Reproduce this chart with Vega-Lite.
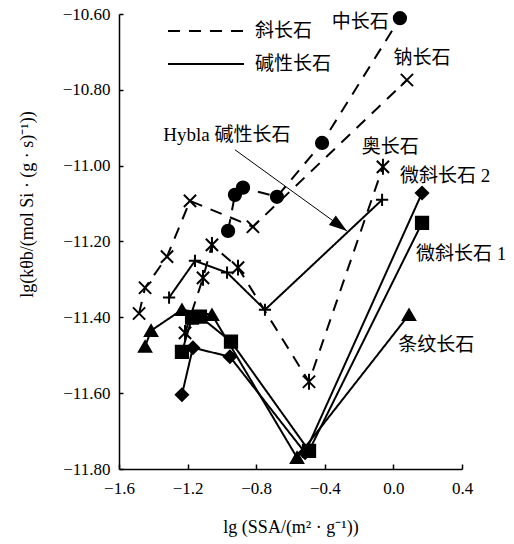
{
  "$schema": "https://vega.github.io/schema/vega-lite/v6.json",
  "width": 343,
  "height": 455,
  "autosize": {"type": "none"},
  "padding": {"left": 119, "top": 14, "right": 52, "bottom": 75},
  "background": "white",
  "config": {
    "view": {"stroke": null},
    "axis": {
      "grid": false,
      "domainColor": "black",
      "domainWidth": 1.5,
      "tickColor": "black",
      "tickWidth": 1.5,
      "labelFont": "Liberation Serif, serif",
      "labelFontSize": 17,
      "labelColor": "black",
      "labelFlush": false,
      "labelOverlap": false,
      "titleFont": "Liberation Serif, serif",
      "titleFontSize": 18,
      "titleFontWeight": "normal",
      "titleColor": "black"
    }
  },
  "datasets": {
    "pts": [
      {"s": "中长石", "g": "斜长石", "i": 1, "x": -0.964, "y": -11.172},
      {"s": "中长石", "g": "斜长石", "i": 2, "x": -0.924, "y": -11.077},
      {"s": "中长石", "g": "斜长石", "i": 3, "x": -0.877, "y": -11.058},
      {"s": "中长石", "g": "斜长石", "i": 4, "x": -0.679, "y": -11.082},
      {"s": "中长石", "g": "斜长石", "i": 5, "x": -0.416, "y": -10.94},
      {"s": "中长石", "g": "斜长石", "i": 6, "x": 0.038, "y": -10.611},
      {"s": "钠长石", "g": "斜长石", "i": 1, "x": -1.483, "y": -11.39},
      {"s": "钠长石", "g": "斜长石", "i": 2, "x": -1.448, "y": -11.322},
      {"s": "钠长石", "g": "斜长石", "i": 3, "x": -1.32, "y": -11.24},
      {"s": "钠长石", "g": "斜长石", "i": 4, "x": -1.186, "y": -11.093},
      {"s": "钠长石", "g": "斜长石", "i": 5, "x": -0.819, "y": -11.161},
      {"s": "钠长石", "g": "斜长石", "i": 6, "x": 0.079, "y": -10.774},
      {"s": "奥长石", "g": "斜长石", "i": 1, "x": -1.215, "y": -11.441},
      {"s": "奥长石", "g": "斜长石", "i": 2, "x": -1.11, "y": -11.296},
      {"s": "奥长石", "g": "斜长石", "i": 3, "x": -1.058, "y": -11.209},
      {"s": "奥长石", "g": "斜长石", "i": 4, "x": -0.906, "y": -11.269},
      {"s": "奥长石", "g": "斜长石", "i": 5, "x": -0.492, "y": -11.57},
      {"s": "奥长石", "g": "斜长石", "i": 6, "x": -0.061, "y": -11.003},
      {"s": "Hybla", "g": "碱性长石", "i": 1, "x": -1.308, "y": -11.348},
      {"s": "Hybla", "g": "碱性长石", "i": 2, "x": -1.157, "y": -11.251},
      {"s": "Hybla", "g": "碱性长石", "i": 3, "x": -0.97, "y": -11.282},
      {"s": "Hybla", "g": "碱性长石", "i": 4, "x": -0.749, "y": -11.38},
      {"s": "Hybla", "g": "碱性长石", "i": 5, "x": -0.066, "y": -11.09},
      {"s": "条纹长石", "g": "碱性长石", "i": 1, "x": -1.448, "y": -11.477},
      {"s": "条纹长石", "g": "碱性长石", "i": 2, "x": -1.413, "y": -11.435},
      {"s": "条纹长石", "g": "碱性长石", "i": 3, "x": -1.233, "y": -11.38},
      {"s": "条纹长石", "g": "碱性长石", "i": 4, "x": -1.058, "y": -11.393},
      {"s": "条纹长石", "g": "碱性长石", "i": 5, "x": -0.562, "y": -11.77},
      {"s": "条纹长石", "g": "碱性长石", "i": 6, "x": 0.091, "y": -11.393},
      {"s": "微斜长石1", "g": "碱性长石", "i": 1, "x": -1.233, "y": -11.491},
      {"s": "微斜长石1", "g": "碱性长石", "i": 2, "x": -1.174, "y": -11.401},
      {"s": "微斜长石1", "g": "碱性长石", "i": 3, "x": -1.128, "y": -11.398},
      {"s": "微斜长石1", "g": "碱性长石", "i": 4, "x": -0.947, "y": -11.464},
      {"s": "微斜长石1", "g": "碱性长石", "i": 5, "x": -0.492, "y": -11.752},
      {"s": "微斜长石1", "g": "碱性长石", "i": 6, "x": 0.167, "y": -11.151},
      {"s": "微斜长石2", "g": "碱性长石", "i": 1, "x": -1.233, "y": -11.604},
      {"s": "微斜长石2", "g": "碱性长石", "i": 2, "x": -1.169, "y": -11.48},
      {"s": "微斜长石2", "g": "碱性长石", "i": 3, "x": -0.953, "y": -11.504},
      {"s": "微斜长石2", "g": "碱性长石", "i": 4, "x": -0.515, "y": -11.757},
      {"s": "微斜长石2", "g": "碱性长石", "i": 5, "x": 0.167, "y": -11.072}
    ],
    "labels": [
      {"t": "中长石", "x": -0.36, "y": -10.62},
      {"t": "钠长石", "x": 0.0, "y": -10.717},
      {"t": "奥长石", "x": -0.185, "y": -10.95},
      {"t": "微斜长石 2", "x": 0.0385, "y": -11.027},
      {"t": "微斜长石 1", "x": 0.132, "y": -11.232},
      {"t": "条纹长石", "x": 0.029, "y": -11.472},
      {"t": "Hybla 碱性长石", "x": -1.342, "y": -10.919}
    ],
    "arrow": [
      {"x": -0.924, "y": -10.958, "x2": -0.271, "y2": -11.172}
    ]
  },
  "layer": [
    {
      "data": {"name": "pts"},
      "mark": {"type": "line", "color": "black", "strokeWidth": 2},
      "encoding": {
        "x": {
          "field": "x", "type": "quantitative",
          "scale": {"domain": [-1.6, 0.4], "nice": false, "zero": false},
          "axis": {
            "values": [-1.6, -1.2, -0.8, -0.4, 0, 0.4],
            "format": ".1f",
            "title": "lg (SSA/(m² · g⁻¹))",
            "labelFont": "Liberation Serif, serif",
            "titleFont": "Liberation Serif, serif",
            "tickSize": -5,
            "labelPadding": 16,
            "titleY": 58,
            "titleBaseline": "middle"
          }
        },
        "y": {
          "field": "y", "type": "quantitative",
          "scale": {"domain": [-11.8, -10.6], "nice": false, "zero": false},
          "axis": {
            "values": [-10.6, -10.8, -11.0, -11.2, -11.4, -11.6, -11.8],
            "format": ".2f",
            "title": "lg(kθb/(mol Si · (g · s)⁻¹))",
            "labelFont": "Liberation Serif, serif",
            "titleFont": "Liberation Serif, serif",
            "tickSize": -4,
            "labelPadding": 13,
            "titleX": -92,
            "titleY": 190,
            "titleAlign": "center",
            "titleBaseline": "middle"
          }
        },
        "detail": {"field": "s"},
        "order": {"field": "i"},
        "strokeDash": {
          "field": "g", "type": "nominal",
          "scale": {"domain": ["斜长石", "碱性长石"], "range": [[12, 9], [1, 0]]},
          "legend": {
            "orient": "none",
            "legendX": 48,
            "legendY": 9,
            "title": null,
            "direction": "vertical",
            "symbolType": "stroke",
            "symbolSize": 5776,
            "symbolStrokeWidth": 2,
            "symbolStrokeColor": "black",
            "clipHeight": 16,
            "rowPadding": 14,
            "labelOffset": 10,
            "labelFont": "Liberation Serif, Noto Sans CJK SC",
            "labelFontSize": 19,
            "labelColor": "black",
            "padding": 0
          }
        }
      }
    },
    {
      "data": {"name": "pts"},
      "mark": {"type": "point", "filled": true, "color": "black", "stroke": "black", "strokeWidth": 2, "opacity": 1, "size": 150},
      "encoding": {
        "x": {"field": "x", "type": "quantitative"},
        "y": {"field": "y", "type": "quantitative"},
        "shape": {
          "field": "s", "type": "nominal",
          "scale": {
            "domain": ["中长石", "钠长石", "奥长石", "Hybla", "条纹长石", "微斜长石1", "微斜长石2"],
            "range": ["circle", "M-1,-1L1,1M-1,1L1,-1", "M-1,-1L1,1M-1,1L1,-1M0,-1.3L0,1.3", "M-1,0L1,0M0,-1L0,1", "triangle-up", "square", "diamond"]
          },
          "legend": null
        }
      }
    },
    {
      "data": {"name": "arrow"},
      "mark": {"type": "rule", "color": "black", "strokeWidth": 1},
      "encoding": {
        "x": {"field": "x", "type": "quantitative"},
        "y": {"field": "y", "type": "quantitative"},
        "x2": {"field": "x2"},
        "y2": {"field": "y2"}
      }
    },
    {
      "data": {"name": "arrow"},
      "mark": {"type": "point", "shape": "M0,0L-2,-0.65L-2,0.65Z", "filled": true, "color": "black", "opacity": 1, "size": 324, "angle": 36},
      "encoding": {
        "x": {"field": "x2", "type": "quantitative"},
        "y": {"field": "y2", "type": "quantitative"}
      }
    },
    {
      "data": {"name": "labels"},
      "mark": {"type": "text", "align": "left", "baseline": "middle", "font": "Liberation Serif, Noto Sans CJK SC", "fontSize": 19, "color": "black"},
      "encoding": {
        "x": {"field": "x", "type": "quantitative"},
        "y": {"field": "y", "type": "quantitative"},
        "text": {"field": "t"}
      }
    }
  ]
}
